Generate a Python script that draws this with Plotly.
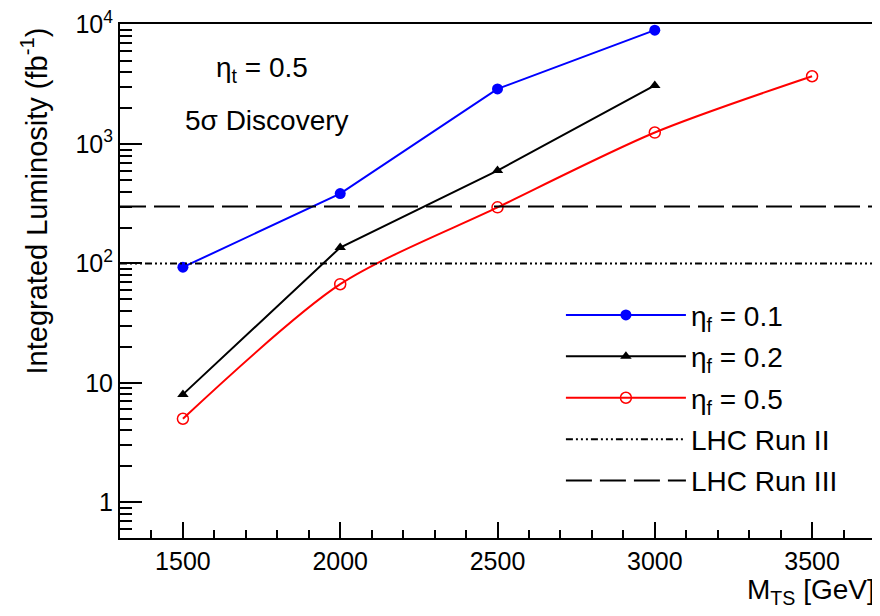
import plotly.graph_objects as go

mass = [1500, 2000, 2500, 3000]
mass_red = [1500, 2000, 2500, 3000, 3500]
lum_eta01 = [93, 385, 2900, 9000]
lum_eta02 = [8, 136, 600, 3100]
lum_eta05 = [5, 67, 295, 1250, 3700]
run2_lum = 100
run3_lum = 300
x_range = [1300, 3700]
x_major = [1500, 2000, 2500, 3000, 3500]
y_major = [1, 10, 100, 1000, 10000]
y_major_text = ["1", "10", "10<sup>2</sup>", "10<sup>3</sup>", "10<sup>4</sup>"]

FONT = "Liberation Sans, Arial, Helvetica, sans-serif"

y_minor = []
for dec in [0.1, 1, 10, 100, 1000]:
    for k in range(2, 10):
        v = dec * k
        if 0.5 <= v <= 10000:
            y_minor.append(v)
x_minor = list(range(1300, 3701, 100))

fig = go.Figure()
fig.add_trace(go.Scatter(x=mass, y=lum_eta01, mode="lines+markers", name="η<sub>f</sub> = 0.1",
                         legendgroup="a",
                         line=dict(color="#0000ff", width=2),
                         marker=dict(symbol="circle", size=11, color="#0000ff")))
fig.add_trace(go.Scatter(x=mass, y=lum_eta02, mode="lines+markers", name="η<sub>f</sub> = 0.2",
                         legendgroup="b",
                         line=dict(color="#000000", width=2),
                         marker=dict(symbol="triangle-up", size=10, color="#000000")))
fig.add_trace(go.Scatter(x=mass_red, y=lum_eta05, mode="lines+markers", name="η<sub>f</sub> = 0.5",
                         legendgroup="c",
                         line=dict(color="#ff0000", width=2, shape="spline", smoothing=0.8),
                         marker=dict(symbol="circle-open", size=11, color="#ff0000", line=dict(width=1.5))))
fig.add_trace(go.Scatter(x=x_range, y=[run2_lum, run2_lum], mode="lines", name="LHC Run II",
                         legendgroup="d",
                         line=dict(color="black", width=2, dash="7px,3px,2px,3px,2px,3px,2px,3px")))
fig.add_trace(go.Scatter(x=x_range, y=[run3_lum, run3_lum], mode="lines", name="LHC Run III",
                         legendgroup="e",
                         line=dict(color="black", width=2, dash="26px,8px")))

fig.update_layout(
    width=868, height=600,
    margin=dict(l=112, r=1, t=16, b=70),
    paper_bgcolor="white", plot_bgcolor="white",
    font=dict(family=FONT, size=25, color="black"),
    showlegend=True,
    legend=dict(x=0.584, y=0.482, xanchor="left", yanchor="top",
                bgcolor="rgba(0,0,0,0)", font=dict(size=28),
                traceorder="grouped", tracegroupgap=2, itemwidth=120),
    xaxis=dict(range=x_range, showgrid=False, zeroline=False, automargin=False,
               showline=True, linecolor="black", linewidth=2, mirror=True,
               tickvals=x_major,
               ticks="inside", ticklen=16, tickwidth=1.5, tickcolor="black",
               tickfont=dict(size=25),
               minor=dict(tickvals=x_minor, ticks="inside", ticklen=8, tickwidth=1.5, tickcolor="black")),
    yaxis=dict(type="log", range=[-0.3, 4.006], showgrid=False, zeroline=False, automargin=False,
               showline=True, linecolor="black", linewidth=2, mirror=True,
               tickvals=y_major, ticktext=y_major_text, ticklabeloverflow="allow",
               ticks="inside", ticklen=22, tickwidth=1.5, tickcolor="black",
               tickfont=dict(size=25),
               minor=dict(tickvals=y_minor, ticks="inside", ticklen=12, tickwidth=1.5, tickcolor="black")),
)

fig.add_annotation(text="η<sub>t</sub> = 0.5", xref="paper", yref="paper",
                   x=0.1876, y=0.912, showarrow=False, font=dict(size=28),
                   xanchor="center", yanchor="middle")
fig.add_annotation(text="5σ Discovery", xref="paper", yref="paper",
                   x=0.195, y=0.813, showarrow=False, font=dict(size=28),
                   xanchor="center", yanchor="middle")
fig.add_annotation(text="M<sub>TS</sub> [GeV]", xref="paper", yref="paper",
                   x=1.002, y=-0.104, showarrow=False, font=dict(size=28),
                   xanchor="right", yanchor="middle")
fig.add_annotation(text="Integrated Luminosity (fb<sup>-1</sup>)", xref="paper", yref="paper",
                   x=-0.114, y=0.998, showarrow=False, font=dict(size=29), textangle=-90,
                   xanchor="center", yanchor="top")

fig.write_html("out.html")
